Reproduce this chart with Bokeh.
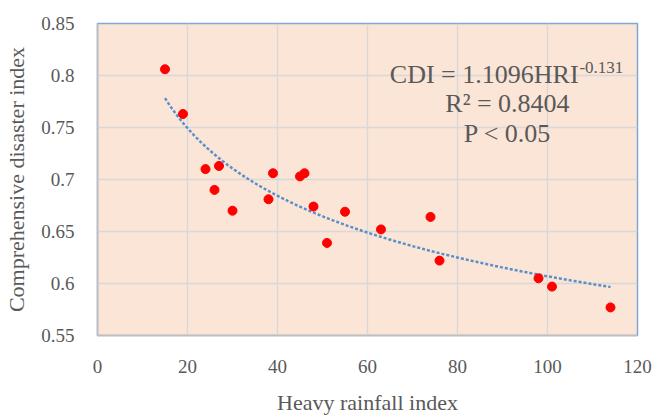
import numpy as np
from bokeh.plotting import figure
from bokeh.models import Range1d, FixedTicker, Label
from bokeh.embed import file_html
from bokeh.resources import INLINE

# ---- data ----
hri = [15, 19, 24, 26, 27, 30, 38, 39, 45, 46, 48, 51, 55, 63, 74, 76, 98, 101, 114]
cdi = [0.806, 0.763, 0.710, 0.690, 0.713, 0.670, 0.681, 0.706, 0.703, 0.706,
       0.674, 0.639, 0.669, 0.652, 0.664, 0.622, 0.605, 0.597, 0.577]

# power-law fit shown in the chart: CDI = a * HRI^b
fit_a = 1.1096
fit_b = -0.131

x_ticks = [0, 20, 40, 60, 80, 100, 120]
x_tick_labels = ["0", "20", "40", "60", "80", "100", "120"]
y_ticks = [0.55, 0.6, 0.65, 0.7, 0.75, 0.8, 0.85]
y_tick_labels = ["0.55", "0.6", "0.65", "0.7", "0.75", "0.8", "0.85"]

eq_text = "CDI = 1.1096HRI"
eq_sup = "-0.131"
r2_text = "R\u00b2 = 0.8404"
p_text = "P < 0.05"

x_label = "Heavy rainfall index"
y_label = "Comprehensive disaster index"

FONT = "Liberation Serif"
TXT = "#595959"

p = figure(width=660, height=417, output_backend="svg", toolbar_location=None,
           x_range=Range1d(0, 120), y_range=Range1d(0.55, 0.85),
           min_border_left=97, min_border_right=23, min_border_top=23, min_border_bottom=82)

p.background_fill_color = "#FBE5D6"
p.border_fill_color = "white"
p.outline_line_color = "#7FA7D8"
p.outline_line_width = 1.5

for ax in (p.xaxis[0], p.yaxis[0]):
    ax.major_tick_line_color = None
    ax.minor_tick_line_color = None
    ax.axis_line_color = "#BFBFBF"
    ax.axis_line_width = 1.5
    ax.major_label_text_font = FONT
    ax.major_label_text_color = TXT
    ax.major_label_text_font_size = "19px"
    ax.axis_label_text_font = FONT
    ax.axis_label_text_color = TXT
    ax.axis_label_text_font_size = "22px"
    ax.axis_label_text_font_style = "normal"

p.xaxis.ticker = FixedTicker(ticks=x_ticks)
p.xaxis.major_label_overrides = dict(zip(x_ticks, x_tick_labels))
p.yaxis.ticker = FixedTicker(ticks=y_ticks)
p.yaxis.major_label_overrides = dict(zip(y_ticks, y_tick_labels))
p.xaxis.major_label_standoff = 18
p.yaxis.major_label_standoff = 17
p.xaxis.axis_label = x_label
p.yaxis.axis_label = y_label
p.xaxis.axis_label_standoff = 14
p.yaxis.axis_label_standoff = 9

p.xgrid.grid_line_color = "#D8D8DA"
p.ygrid.grid_line_color = "#D8D8DA"
p.xgrid.grid_line_width = 1.3
p.ygrid.grid_line_width = 1.3

# trend line from the fitted equation
xs = np.linspace(min(hri), max(hri), 200)
ys = fit_a * xs ** fit_b
p.line(xs, ys, line_color="#5A8FCB", line_width=2.5, line_dash="3 2")

p.scatter(hri, cdi, size=9, color="#FF0000")

common = dict(text_font=FONT, text_color=TXT, text_baseline="alphabetic")
p.add_layout(Label(x=106.9, y=0.801, text=eq_text, text_align="right",
                   text_font_size="26px", **common))
p.add_layout(Label(x=107.1, y=0.8077, text=eq_sup, text_align="left",
                   text_font_size="17px", **common))
p.add_layout(Label(x=91.1, y=0.7731, text=r2_text, text_align="center",
                   text_font_size="26px", **common))
p.add_layout(Label(x=91.1, y=0.7442, text=p_text, text_align="center",
                   text_font_size="26px", **common))

open("out.html", "w").write(file_html(p, INLINE))
